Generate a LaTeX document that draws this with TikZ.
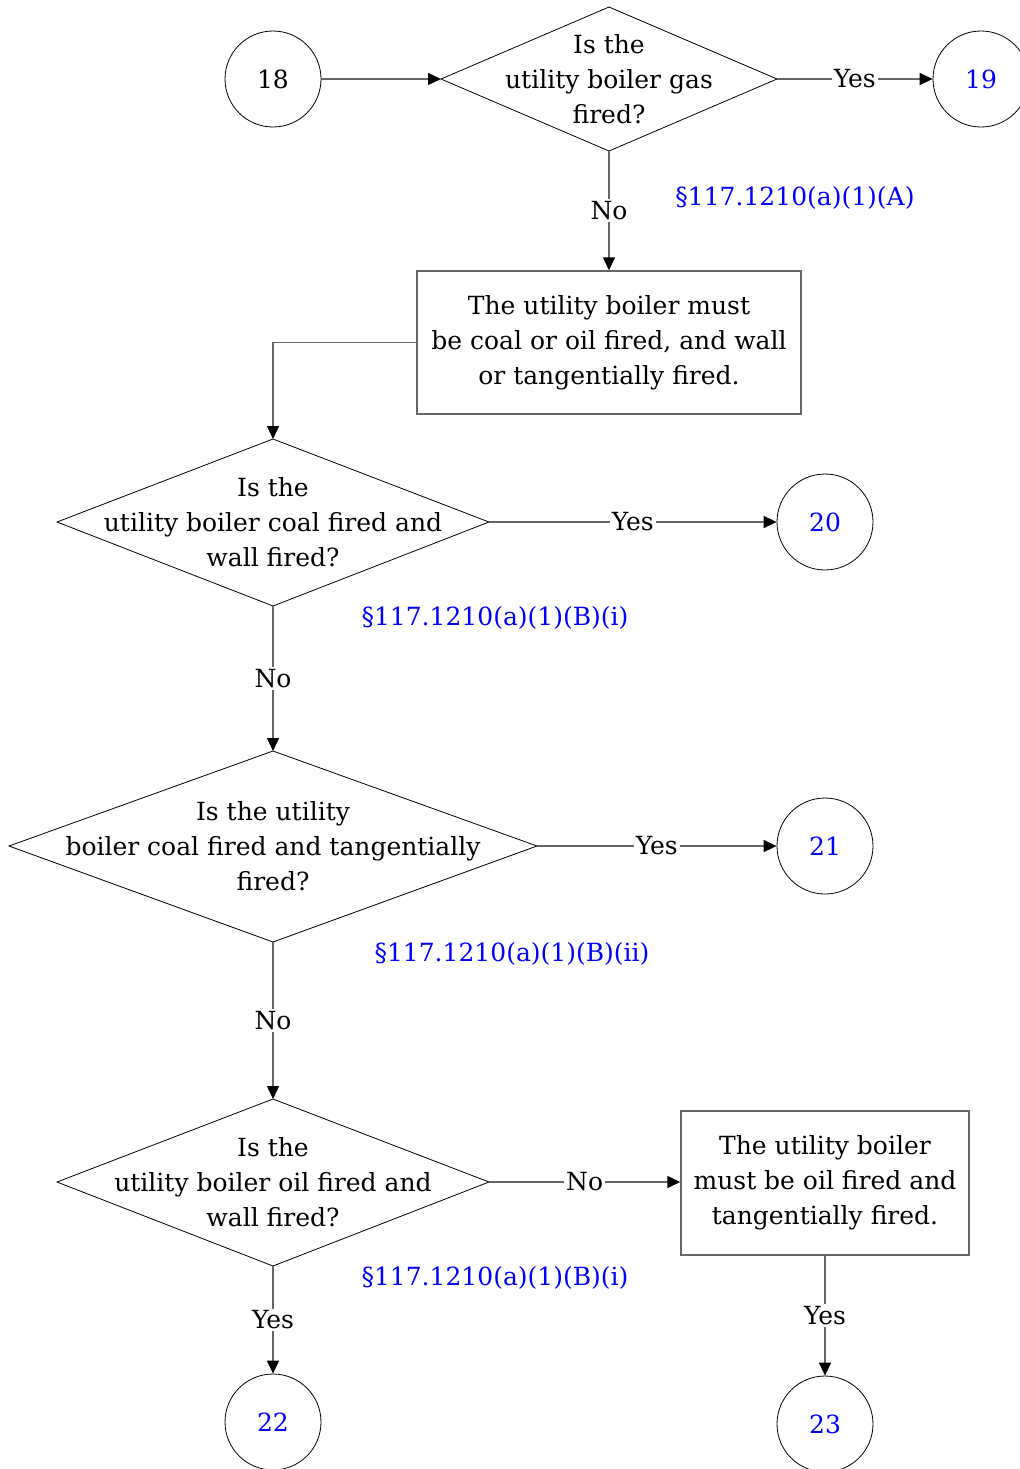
\documentclass[tikz,border=0pt]{standalone}
\usepackage{fontspec}
\setmainfont{DejaVu Serif}
\usetikzlibrary{shapes.geometric,arrows.meta}
\definecolor{lnk}{RGB}{0,0,255}
\definecolor{conn}{RGB}{102,102,102}
\begin{document}
\begin{tikzpicture}[x=0.5pt,y=-0.5pt,
  every node/.style={font=\fontsize{12.5pt}{17.5pt}\selectfont, inner sep=0pt},
  conncircle/.style={circle, draw=black, line width=0.4pt, minimum size=48pt},
  boxnode/.style={draw=conn, line width=0.7pt, align=center},
  conline/.style={draw=conn, line width=0.7pt},
  arr/.style={conline, -{Triangle[length=6.5pt,width=6pt,color=black]}},
  lab/.style={fill=white, inner sep=1pt},
  ref/.style={text=lnk}]
\useasboundingbox (0,0) rectangle (1019,1469);

% nodes
\node[conncircle] (c18) at (273,79) {18};
\draw (441,79) -- (609,7) -- (777,79) -- (609,151) -- cycle;
\node[align=center] (d1) at (609,79) {Is the\\utility boiler gas\\fired?};
\coordinate (d1l) at (441,79); \coordinate (d1r) at (777,79); \coordinate (d1b) at (609,151);
\node[conncircle, text=lnk] (c19) at (981,79) {19};
\node[ref] (r1) at (795,198) {§117.1210(a)(1)(A)};

\node[boxnode, minimum width=192pt, minimum height=71.5pt] (b1) at (609,342.5) {The utility boiler must\\be coal or oil fired, and wall\\or tangentially fired.};

\draw (57,522) -- (273,439) -- (489,522) -- (273,606) -- cycle;
\node[align=center] (d2) at (273,522) {Is the\\utility boiler coal fired and\\wall fired?};
\coordinate (d2t) at (273,439); \coordinate (d2r) at (489,522); \coordinate (d2b) at (273,606);
\node[conncircle, text=lnk] (c20) at (825,522) {20};
\node[ref] (r2) at (495,618) {§117.1210(a)(1)(B)(i)};

\draw (9,846) -- (273,751) -- (537,846) -- (273,942) -- cycle;
\node[align=center] (d3) at (273,846) {Is the utility\\boiler coal fired and tangentially\\fired?};
\coordinate (d3t) at (273,751); \coordinate (d3r) at (537,846); \coordinate (d3b) at (273,942);
\node[conncircle, text=lnk] (c21) at (825,846) {21};
\node[ref] (r3) at (512,954) {§117.1210(a)(1)(B)(ii)};

\draw (57,1182) -- (273,1099) -- (489,1182) -- (273,1266) -- cycle;
\node[align=center] (d4) at (273,1182) {Is the\\utility boiler oil fired and\\wall fired?};
\coordinate (d4t) at (273,1099); \coordinate (d4r) at (489,1182); \coordinate (d4b) at (273,1266);
\node[ref] (r4) at (495,1278) {§117.1210(a)(1)(B)(i)};

\node[boxnode, minimum width=144pt, minimum height=72pt] (b2) at (825,1183) {The utility boiler\\must be oil fired and\\tangentially fired.};

\node[conncircle, text=lnk] (c22) at (273,1422) {22};
\node[conncircle, text=lnk] (c23) at (825,1424) {23};

% connectors
\draw[arr] (c18) -- (d1l);
\draw[arr] (d1r) -- node[lab]{Yes} (c19);
\draw[arr] (d1b) -- node[lab, pos=0.5]{No} (b1.north);
\draw[arr] (b1.west) -| (d2t);
\draw[arr] (d2r) -- node[lab, pos=0.5]{Yes} (c20);
\draw[arr] (d2b) -- node[lab]{No} (d3t);
\draw[arr] (d3r) -- node[lab, pos=0.5]{Yes} (c21);
\draw[arr] (d3b) -- node[lab]{No} (d4t);
\draw[arr] (d4r) -- node[lab]{No} (d4r -| b2.west);
\draw[arr] (d4b) -- node[lab, pos=0.5]{Yes} (c22);
\draw[arr] (b2.south) -- node[lab, pos=0.5]{Yes} (c23);
\end{tikzpicture}
\end{document}
